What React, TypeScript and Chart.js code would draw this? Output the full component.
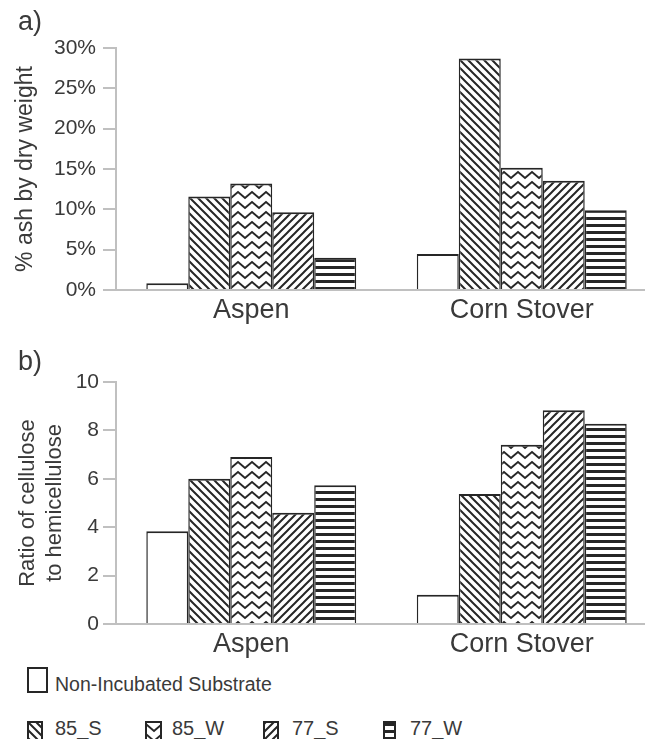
import React, { useEffect, useMemo, useRef } from 'react';
import { Chart, registerables } from 'chart.js';

Chart.register(...registerables);

// ---------------- data ----------------
const categories = ['Aspen', 'Corn Stover'];
const seriesLabels = ['Non-Incubated Substrate', '85_S', '85_W', '77_S', '77_W'];

// a) % ash by dry weight
const ashNonIncubated = [0.83, 4.45];
const ash85S = [11.6, 28.7];
const ash85W = [13.2, 15.15];
const ash77S = [9.65, 13.55];
const ash77W = [4.0, 9.9];
const ashMax = 30;
const ashStep = 5;

// b) ratio of cellulose to hemicellulose
const ratioNonIncubated = [3.83, 1.21];
const ratio85S = [6.0, 5.37];
const ratio85W = [6.9, 7.41];
const ratio77S = [4.6, 8.83];
const ratio77W = [5.73, 8.27];
const ratioMax = 10;
const ratioStep = 2;

// ---------------- styles ----------------
const INK = '#262626';
const TEXT = '#3a3a3a';
const AXIS = '#c0c0c0';
const FAMILY = "'Liberation Sans', Arial, Helvetica, sans-serif";

type Kind = 'plain' | 'back' | 'zig' | 'fwd' | 'horiz';
const kinds: Kind[] = ['plain', 'back', 'zig', 'fwd', 'horiz'];

function makeTile(kind: Kind): HTMLCanvasElement {
  const c = document.createElement('canvas');
  let w = 8;
  let h = 8;
  if (kind === 'zig') { w = 14; h = 10; }
  if (kind === 'horiz') { w = 8; h = 7; }
  c.width = w;
  c.height = h;
  const g = c.getContext('2d')!;
  g.fillStyle = '#ffffff';
  g.fillRect(0, 0, w, h);
  g.strokeStyle = INK;
  g.fillStyle = INK;
  g.lineWidth = 2;
  if (kind === 'back') {
    g.beginPath();
    for (const k of [-w, 0, w]) {
      g.moveTo(k - 1, -1);
      g.lineTo(k + w + 1, h + 1);
    }
    g.stroke();
  } else if (kind === 'fwd') {
    g.beginPath();
    for (const k of [-w, 0, w]) {
      g.moveTo(k - 1, h + 1);
      g.lineTo(k + w + 1, -1);
    }
    g.stroke();
  } else if (kind === 'zig') {
    g.beginPath();
    g.moveTo(-7, 8);
    g.lineTo(0, 2);
    g.lineTo(7, 8);
    g.lineTo(14, 2);
    g.lineTo(21, 8);
    g.stroke();
  } else if (kind === 'horiz') {
    g.fillRect(0, 0, w, 3);
  }
  return c;
}

type PanelProps = {
  series: number[][];
  max: number;
  step: number;
  suffix: string;
  title: string | string[];
  titleSize: number;
  titleLineHeight: number;
  titlePad: number;
  tickPad: number;
  top: number;
  height: number;
  areaTop: number;
  areaBottom: number;
};

function Panel(p: PanelProps) {
  const ref = useRef<HTMLCanvasElement | null>(null);
  useEffect(() => {
    const canvas = ref.current!;
    const ctx = canvas.getContext('2d')!;
    const fills = kinds.map((k) =>
      k === 'plain' ? '#ffffff' : (ctx.createPattern(makeTile(k), 'repeat') as CanvasPattern)
    );
    const chart = new Chart(canvas, {
      type: 'bar',
      data: {
        labels: categories,
        datasets: seriesLabels.map((label, i) => ({
          label,
          data: p.series[i],
          backgroundColor: fills[i] as any,
          borderColor: INK,
          borderWidth: { top: 2, left: 1.5, right: 1.5, bottom: 0 },
          barPercentage: 1,
          categoryPercentage: 0.776,
        })),
      },
      options: {
        responsive: false,
        animation: false,
        layout: { padding: { top: p.areaTop, left: 0, right: 23, bottom: 0 } },
        plugins: {
          legend: { display: false },
          tooltip: { enabled: false },
          title: { display: false },
        },
        scales: {
          x: {
            grid: { display: false, drawTicks: false },
            border: { display: true, color: AXIS, width: 2 },
            ticks: { color: TEXT, font: { family: FAMILY, size: 27 }, padding: 4 },
            afterFit: (s: any) => {
              s.height = p.height - p.areaBottom;
            },
          },
          y: {
            min: 0,
            max: p.max,
            ticks: {
              stepSize: p.step,
              color: TEXT,
              font: { family: FAMILY, size: 21 },
              padding: p.tickPad,
              callback: (v: any) => `${v}${p.suffix}`,
            },
            grid: {
              drawOnChartArea: false,
              drawTicks: true,
              tickLength: 13,
              color: AXIS,
              lineWidth: 2,
            },
            border: { display: true, color: AXIS, width: 2 },
            title: {
              display: true,
              text: p.title,
              color: TEXT,
              font: { family: FAMILY, size: p.titleSize, lineHeight: p.titleLineHeight },
              padding: { top: p.titlePad, bottom: 0 },
            },
            afterFit: (s: any) => {
              s.width = 116;
            },
          },
        },
      },
    });
    return () => chart.destroy();
  }, []);
  return (
    <canvas
      ref={ref}
      width={680}
      height={p.height}
      style={{ position: 'absolute', left: 0, top: p.top, width: 680, height: p.height }}
    />
  );
}

const textStyle: React.CSSProperties = {
  position: 'absolute',
  fontFamily: FAMILY,
  color: TEXT,
  whiteSpace: 'nowrap',
};

export default function App() {
  const swatches = useMemo(
    () => kinds.map((k) => (k === 'plain' ? '' : makeTile(k).toDataURL())),
    []
  );

  const swatch = (i: number, left: number, top: number, w: number, h: number) => (
    <div
      key={`sw${i}`}
      style={{
        position: 'absolute',
        left,
        top,
        width: w,
        height: h,
        boxSizing: 'border-box',
        border: `2px solid ${INK}`,
        background: swatches[i] ? `url(${swatches[i]}) repeat` : '#fff',
      }}
    />
  );

  const row2 = [
    { i: 1, box: 27, text: 55, w: 16 },
    { i: 2, box: 145, text: 172, w: 17 },
    { i: 3, box: 263, text: 292, w: 16 },
    { i: 4, box: 383, text: 410, w: 13 },
  ];

  return (
    <div
      style={{
        position: 'fixed',
        left: 0,
        top: 0,
        width: 645,
        height: 739,
        overflow: 'hidden',
        background: '#ffffff',
      }}
    >
      <Panel
        series={[ashNonIncubated, ash85S, ash85W, ash77S, ash77W]}
        max={ashMax}
        step={ashStep}
        suffix="%"
        title="% ash by dry weight"
        titleSize={23}
        titleLineHeight={1.2}
        titlePad={12}
        tickPad={7}
        top={0}
        height={330}
        areaTop={48}
        areaBottom={290}
      />
      <Panel
        series={[ratioNonIncubated, ratio85S, ratio85W, ratio77S, ratio77W]}
        max={ratioMax}
        step={ratioStep}
        suffix=""
        title={['Ratio of cellulose', 'to hemicellulose']}
        titleSize={22}
        titleLineHeight={1.23}
        titlePad={14.5}
        tickPad={4}
        top={330}
        height={330}
        areaTop={52}
        areaBottom={294}
      />
      <div style={{ ...textStyle, left: 18, top: 8, fontSize: 27, lineHeight: '27px' }}>a)</div>
      <div style={{ ...textStyle, left: 18, top: 348, fontSize: 27, lineHeight: '27px' }}>b)</div>

      {swatch(0, 27, 667, 21, 26)}
      <div style={{ ...textStyle, left: 55, top: 673, fontSize: 19.5, lineHeight: '22px' }}>
        {seriesLabels[0]}
      </div>
      {row2.map((r) => (
        <React.Fragment key={r.i}>
          {swatch(r.i, r.box, 721, r.w, 22)}
          <div style={{ ...textStyle, left: r.text, top: 717, fontSize: 20, lineHeight: '22px' }}>
            {seriesLabels[r.i]}
          </div>
        </React.Fragment>
      ))}
    </div>
  );
}
